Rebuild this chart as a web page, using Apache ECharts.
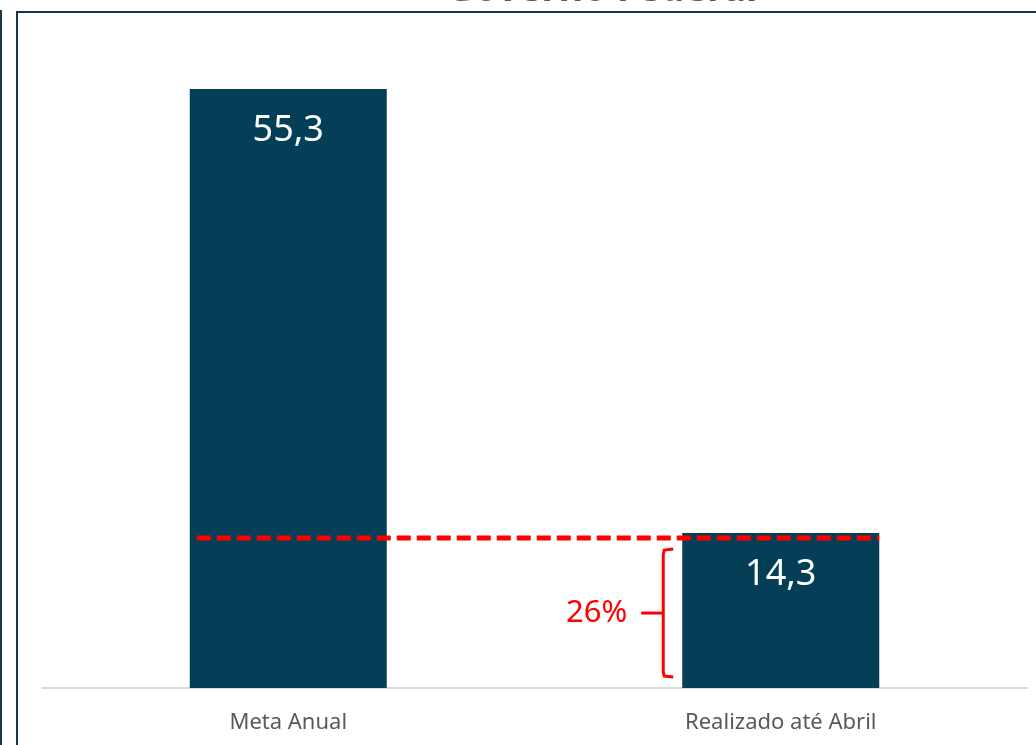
<!DOCTYPE html>
<html>
<head>
<meta charset="utf-8">
<script src="https://cdn.jsdelivr.net/npm/echarts@6/dist/echarts.min.js"></script>
<style>
  html, body { margin: 0; padding: 0; background: #ffffff; }
  #chart { width: 1036px; height: 745px; }
</style>
</head>
<body>
<div id="chart"></div>
<script>
// Annual target vs. amount realised so far (R$ bi)
const titleText = 'Governo Federal';
const categories = ['Meta Anual', 'Realizado até Abril'];
const values = [55.3, 14.3];

// Share of the annual target already realised
const shareOfTarget = Math.round(values[1] / values[0] * 100);
const fmt = v => v.toFixed(1).replace('.', ',');

const BAR_RATIO = 0.4;
const RED = '#ff0000';

// Dashed level line, brace and percentage, placed through the axis scales
function renderAnnotation(params, api) {
  const level = api.value(1);
  const pA = api.coord([0, level]);
  const pB = api.coord([1, level]);
  const base = api.coord([1, 0]);
  const band = api.size([1, 0])[0];
  const bw = band * BAR_RATIO;

  const y = pA[1] + 5;
  const x0 = pA[0] - bw / 2 + 7;
  const x1 = pB[0] + bw / 2;

  const bx = pB[0] - bw / 2 - 19;
  const yTop = pB[1] + 16;
  const yBot = base[1] - 11;
  const yMid = (yTop + yBot) / 2;

  return {
    type: 'group',
    children: [
      {
        type: 'line',
        shape: { x1: x0, y1: y, x2: x1, y2: y },
        style: { stroke: RED, lineWidth: 5, lineDash: [14, 6] }
      },
      {
        type: 'polyline',
        shape: { points: [[bx + 10, yTop], [bx + 1, yTop + 1], [bx, yTop + 5], [bx, yBot - 5], [bx + 1, yBot - 1], [bx + 10, yBot]] },
        style: { stroke: RED, lineWidth: 3, fill: null }
      },
      {
        type: 'line',
        shape: { x1: bx, y1: yMid, x2: bx - 22, y2: yMid },
        style: { stroke: RED, lineWidth: 3 }
      },
      {
        type: 'text',
        x: bx - 36,
        y: yMid,
        style: {
          text: shareOfTarget + '%',
          fill: RED,
          fontSize: 31,
          fontFamily: 'Noto Sans',
          align: 'right',
          verticalAlign: 'middle'
        }
      }
    ]
  };
}

const chart = echarts.init(document.getElementById('chart'));
chart.setOption({
  animation: false,
  backgroundColor: '#ffffff',
  graphic: [
    // chart frame
    { type: 'rect', shape: { x: 17, y: 12, width: 1100, height: 800 }, style: { fill: null, stroke: '#15394b', lineWidth: 2 }, z: 0 },
    { type: 'line', shape: { x1: 1, y1: 10, x2: 1, y2: 760 }, style: { stroke: '#15394b', lineWidth: 2 }, z: 0 },
    {
      type: 'text',
      x: 602,
      y: -10,
      style: {
        text: titleText,
        fill: '#595959',
        fontSize: 38,
        fontWeight: 'bold',
        fontFamily: 'Noto Sans',
        align: 'center',
        verticalAlign: 'middle'
      },
      z: 1
    }
  ],
  grid: { left: 42, right: 9, top: 38, bottom: 57 },
  xAxis: {
    type: 'category',
    data: categories,
    axisLine: { lineStyle: { color: '#d9d9d9', width: 2 } },
    axisTick: { show: false },
    axisLabel: { color: '#595959', fontSize: 22, fontFamily: 'Noto Sans', margin: 24 }
  },
  yAxis: { type: 'value', min: 0, max: 60, show: false },
  series: [
    {
      type: 'bar',
      data: values,
      barWidth: (BAR_RATIO * 100) + '%',
      itemStyle: { color: '#043e57' },
      label: {
        show: true,
        position: 'insideTop',
        distance: 24,
        color: '#ffffff',
        fontSize: 36,
        fontFamily: 'Noto Sans',
        formatter: p => fmt(p.value)
      }
    },
    {
      type: 'custom',
      data: [[1, values[1]]],
      z: 5,
      silent: true,
      renderItem: renderAnnotation
    }
  ]
});
</script>
</body>
</html>
